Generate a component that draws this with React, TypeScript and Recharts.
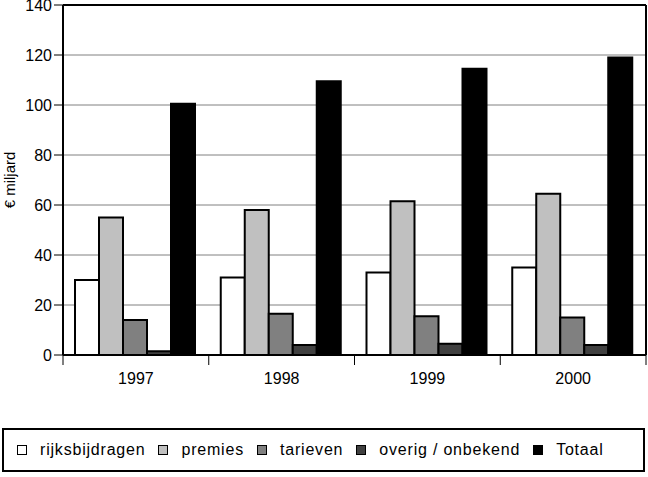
import { BarChart, Bar, XAxis, YAxis, CartesianGrid, ReferenceLine } from "recharts";

const years = ["1997", "1998", "1999", "2000"];
const rijksbijdragen = [30, 31, 33, 35];
const premies = [55, 58, 61.5, 64.5];
const tarieven = [14, 16.5, 15.5, 15];
const overig = [1.5, 4, 4.5, 4];
const totaal = [100.5, 109.5, 114.5, 119];
const yTicks = [0, 20, 40, 60, 80, 100, 120, 140];

const series = [
  { key: "rijksbijdragen", name: "rijksbijdragen", fill: "#ffffff" },
  { key: "premies", name: "premies", fill: "#c0c0c0" },
  { key: "tarieven", name: "tarieven", fill: "#808080" },
  { key: "overig", name: "overig / onbekend", fill: "#404040" },
  { key: "totaal", name: "Totaal", fill: "#000000" },
];

const data = years.map((year, i) => ({
  year,
  rijksbijdragen: rijksbijdragen[i],
  premies: premies[i],
  tarieven: tarieven[i],
  overig: overig[i],
  totaal: totaal[i],
}));

const font = "'Liberation Sans', Arial, sans-serif";

// year label plus tick marks at the band edges
function YearTick(props: any) {
  const { x, y, payload, index } = props;
  const half = payload?.offset ?? 0;
  const last = index === years.length - 1;
  return (
    <g>
      <line x1={x - half} x2={x - half} y1={y} y2={y + 10} stroke="#000" strokeWidth={1} />
      {last && <line x1={x + half} x2={x + half} y1={y} y2={y + 10} stroke="#000" strokeWidth={1} />}
      <text x={x} y={y + 29} textAnchor="middle" fill="#000" fontSize={16} fontFamily={font}>
        {payload.value}
      </text>
    </g>
  );
}

export default function App() {
  return (
    <div style={{ position: "absolute", left: 0, top: 0, width: 648, height: 477, background: "#fff", fontFamily: font }}>
      <BarChart
        width={648}
        height={400}
        data={data}
        margin={{ top: 5, right: 2, left: 0, bottom: 0 }}
        barCategoryGap={12}
        barGap={0}
      >
        <CartesianGrid vertical={false} stroke="#808080" strokeWidth={1} />
        <XAxis
          dataKey="year"
          height={45}
          tickSize={0}
          tickMargin={0}
          tickLine={false}
          axisLine={{ stroke: "#000", strokeWidth: 2 }}
          tick={<YearTick />}
          interval={0}
        />
        <YAxis
          domain={[0, 140]}
          ticks={yTicks}
          width={63}
          tickSize={9}
          tickMargin={2}
          interval={0}
          axisLine={{ stroke: "#000", strokeWidth: 2 }}
          tickLine={{ stroke: "#000", strokeWidth: 1 }}
          tick={{ fill: "#000", fontSize: 16, fontFamily: font }}
          label={{ value: "€ miljard", angle: -90, position: "insideLeft", offset: 10, style: { fill: "#000", fontSize: 15, fontFamily: font, textAnchor: "middle" } }}
        />
        <ReferenceLine y={140} stroke="#000" strokeWidth={2} />
        <ReferenceLine x="2000" position="end" stroke="#000" strokeWidth={2} />
        {series.map((s) => (
          <Bar
            key={s.key}
            dataKey={s.key}
            name={s.name}
            fill={s.fill}
            stroke="#000"
            strokeWidth={2}
            isAnimationActive={false}
          />
        ))}
      </BarChart>
      <div
        style={{
          position: "absolute",
          left: 2,
          top: 428,
          width: 643,
          height: 44,
          boxSizing: "border-box",
          border: "2px solid #000",
          display: "flex",
          alignItems: "center",
          paddingLeft: 13,
        }}
      >
        {series.map((s) => (
          <div key={s.key} style={{ display: "flex", alignItems: "center", marginRight: 13 }}>
            <span
              style={{
                display: "inline-block",
                boxSizing: "border-box",
                width: 10,
                height: 10,
                border: "1.5px solid #000",
                background: s.fill,
                marginRight: 13,
              }}
            />
            <span style={{ fontSize: 16, letterSpacing: 0.8, color: "#000" }}>{s.name}</span>
          </div>
        ))}
      </div>
    </div>
  );
}
